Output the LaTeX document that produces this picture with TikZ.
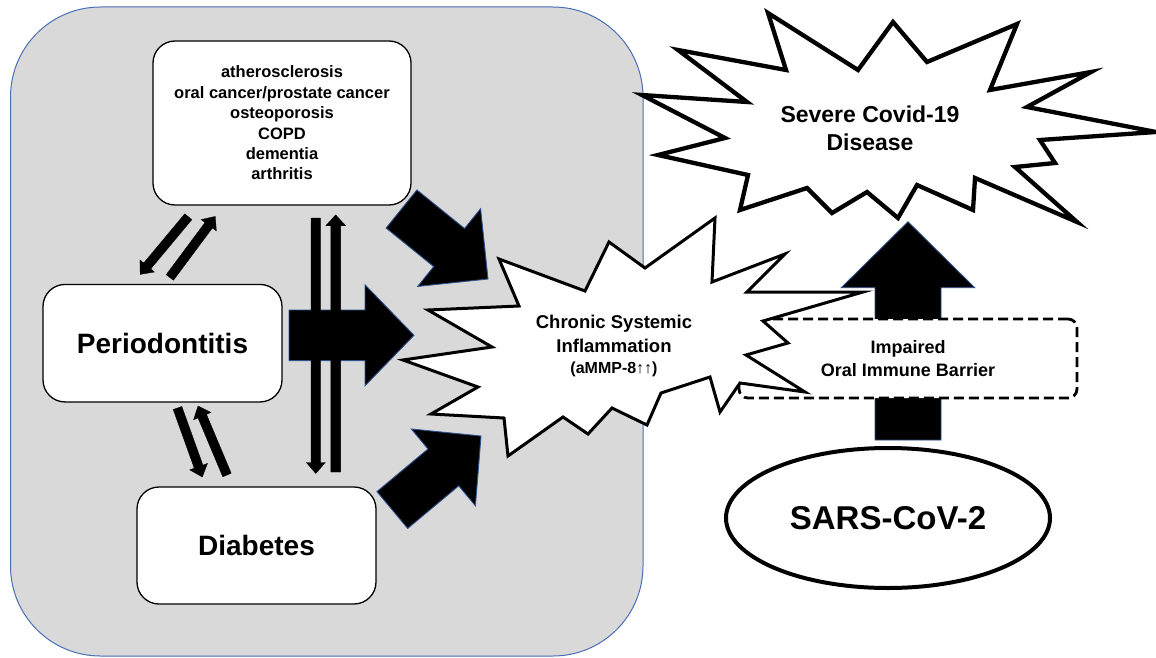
\documentclass[tikz,border=0pt]{standalone}
\usepackage{fontspec}
\setmainfont{Liberation Sans}
\usetikzlibrary{calc,shapes.geometric}
\definecolor{bggray}{HTML}{D9D9D9}
\definecolor{bgblue}{HTML}{4A6FB5}
\definecolor{edgeblue}{HTML}{2F528F}
% #1 style, #2 name, #3 tail, #4 tip, #5 half shaft, #6 half head, #7 head length
\newcommand\blockarrow[7]{%
  \coordinate (#2-hb) at ($(#4)!#7!(#3)$);
  \draw[#1] ($(#3)!#5!90:(#4)$) -- ($(#2-hb)!#5!90:(#4)$) -- ($(#2-hb)!#6!90:(#4)$)
    -- (#4) -- ($(#2-hb)!#6!-90:(#4)$) -- ($(#2-hb)!#5!-90:(#4)$) -- ($(#3)!#5!-90:(#4)$) -- cycle;}
\tikzset{
  bgpanel/.style={fill=bggray, draw=bgblue, line width=1pt, rounded corners=90pt},
  roundbox/.style={draw=black, fill=white, line width=1.3pt, rounded corners=22pt, align=center},
  blockarr/.style={fill=black, draw=edgeblue, line width=0.9pt, line join=miter},
  thinarr/.style={fill=black, draw=black, line width=0.3pt, line join=miter},
  burst/.style={fill=white, draw=black, line join=miter, miter limit=8},
  dashbox/.style={draw=black, fill=white, line width=2.8pt, dash pattern=on 10pt off 5pt, rounded corners=9pt, align=center},
}
\begin{document}
\begin{tikzpicture}[x=1pt,y=-1pt]
\useasboundingbox (0,0) rectangle (1156,658);
% background panel
\draw[bgpanel] (10.5,7) rectangle (643,656);
% boxes
\node[roundbox, minimum width=258pt, minimum height=164pt, font=\bfseries\fontsize{16.5}{20.4}\selectfont] (dis) at (282,123)
  {atherosclerosis\\oral cancer/prostate cancer\\osteoporosis\\COPD\\dementia\\arthritis};
\node[roundbox, minimum width=239pt, minimum height=117.5pt, font=\bfseries\fontsize{28}{34}\selectfont] (perio) at (162.5,343.2) {Periodontitis};
\node[roundbox, minimum width=239pt, minimum height=117pt, font=\bfseries\fontsize{28}{34}\selectfont] (diab) at (256.5,545.5) {Diabetes};
% block arrows toward the inflammation burst
\coordinate (ua-t) at (401.5,209);  \coordinate (ua-h) at (488,279);
\coordinate (ra-t) at (289,335.3);  \coordinate (ra-h) at (414,335.3);
\coordinate (la-t) at (392.3,510);  \coordinate (la-h) at (481,436);
\blockarrow{blockarr}{ua}{ua-t}{ua-h}{24.5pt}{50pt}{50pt}
\blockarrow{blockarr}{ra}{ra-t}{ra-h}{25.3pt}{50.5pt}{49pt}
\blockarrow{blockarr}{la}{la-t}{la-h}{24pt}{50pt}{49pt}
% thin double arrows
\coordinate (a1-t) at (188.3,216.7); \coordinate (a1-h) at (140.2,274.4);
\coordinate (a2-t) at (169.8,277.5); \coordinate (a2-h) at (215.3,216.4);
\coordinate (a3-t) at (177.5,408);   \coordinate (a3-h) at (202.3,477);
\coordinate (a4-t) at (227,475);     \coordinate (a4-h) at (198,406);
\coordinate (a5-t) at (315.8,218);   \coordinate (a5-h) at (315.8,473.5);
\coordinate (a6-t) at (335.7,472);   \coordinate (a6-h) at (335.7,214.8);
\blockarrow{thinarr}{a1}{a1-t}{a1-h}{4.6pt}{9.5pt}{11pt}
\blockarrow{thinarr}{a2}{a2-t}{a2-h}{4.6pt}{9.5pt}{11pt}
\blockarrow{thinarr}{a3}{a3-t}{a3-h}{4.6pt}{9.5pt}{11pt}
\blockarrow{thinarr}{a4}{a4-t}{a4-h}{4.6pt}{9.5pt}{11pt}
\blockarrow{thinarr}{a5}{a5-t}{a5-h}{4.7pt}{9.5pt}{11pt}
\blockarrow{thinarr}{a6}{a6-t}{a6-h}{4.9pt}{10pt}{11pt}
% SARS-CoV-2
\node[ellipse, draw=black, line width=4pt, fill=white, minimum width=324pt, minimum height=140pt, font=\bfseries\fontsize{33}{40}\selectfont] (sars) at (888,518) {SARS-CoV-2};
% up arrow
\coordinate (up-h) at (908,221.7);
\coordinate (up-t) at ($(sars.north)+(0,-6)$);
\coordinate (up-tt) at (up-h |- up-t);
\blockarrow{blockarr}{up}{up-tt}{up-h}{33pt}{66.7pt}{66pt}
% impaired barrier
\node[dashbox, minimum width=338pt, minimum height=79pt, font=\bfseries\fontsize{18}{22.7}\selectfont] (barrier) at (908,358.5) {Impaired\\Oral Immune Barrier};
% chronic inflammation burst
\draw[burst, line width=3pt] (499,259) -- (585,291) -- (609,242) -- (645,268) -- (715,218) -- (712,282) -- (785,254) -- (747,292)
  -- (863,292) -- (763,321) -- (788,343) -- (746,355) -- (805,392) -- (740,383) -- (720,412) -- (710,377) -- (661,393)
  -- (647,425) -- (612,408) -- (588,434) -- (563,417) -- (508,456) -- (504,418) -- (431,414) -- (478,387) -- (403,360)
  -- (492,347) -- (428,310) -- (519,306) -- cycle;
\node[align=center, font=\bfseries\fontsize{18.5}{24}\selectfont] (chronic) at (614,346)
  {Chronic Systemic\\Inflammation\\[-3pt]{\fontsize{16}{24}\selectfont (aMMP-8{\mdseries ↑↑})}};
% severe covid burst
\draw[burst, line width=4.3pt] (768,13) -- (858,70) -- (893,22) -- (927,62) -- (1017,24) -- (990,90) -- (1091,72) -- (1027,107)
  -- (1156,132) -- (1040,140) -- (1055,163) -- (1015,167) -- (1077,222) -- (975,178) -- (973,210) -- (917,185) -- (898,218)
  -- (867,192) -- (832,213) -- (807,188) -- (740,210) -- (748,175) -- (658,155) -- (725,138) -- (642,95) -- (747,102)
  -- (678,50) -- (786,70) -- cycle;
\node[align=center, font=\bfseries\fontsize{23}{28.3}\selectfont] (covid) at (870,128) {Severe Covid-19\\Disease};
\end{tikzpicture}
\end{document}
